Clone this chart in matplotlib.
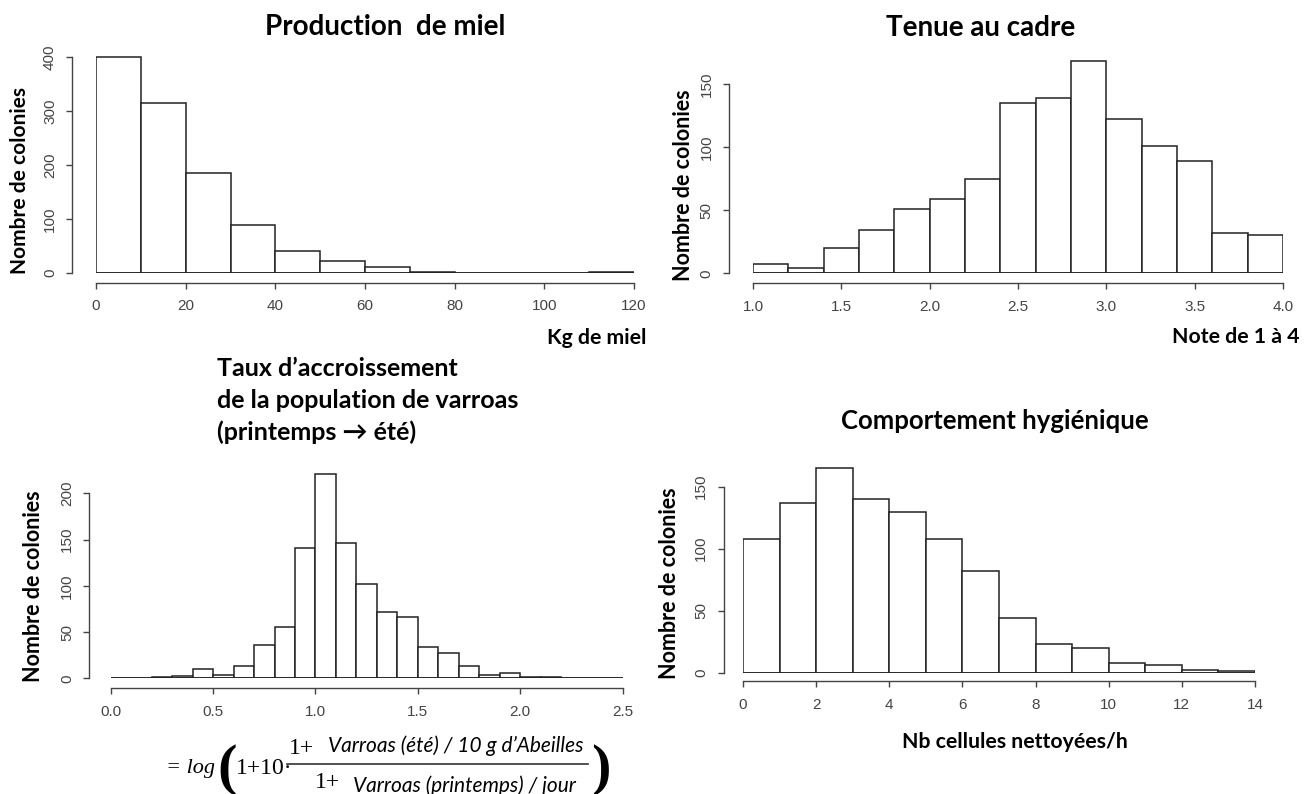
import matplotlib
matplotlib.use('Agg')
import matplotlib.pyplot as plt
from matplotlib.lines import Line2D

W, H = 1309, 794

# ---- data ----
miel_breaks = [0, 10, 20, 30, 40, 50, 60, 70, 80, 90, 100, 110, 120]
miel_counts = [401, 316, 185, 89, 40, 23, 12, 2, 0, 0, 0, 2]
miel_xticks = [0, 20, 40, 60, 80, 100, 120]
miel_yticks = [0, 100, 200, 300, 400]

cadre_breaks = [1.0, 1.2, 1.4, 1.6, 1.8, 2.0, 2.2, 2.4, 2.6, 2.8, 3.0, 3.2, 3.4, 3.6, 3.8, 4.0]
cadre_counts = [7, 4, 20, 34, 51, 59, 75, 135, 139, 168, 122, 101, 89, 32, 30]
cadre_xticks = [1.0, 1.5, 2.0, 2.5, 3.0, 3.5, 4.0]
cadre_yticks = [0, 50, 100, 150]

varroa_breaks = [0.0, 0.1, 0.2, 0.3, 0.4, 0.5, 0.6, 0.7, 0.8, 0.9, 1.0, 1.1, 1.2, 1.3,
                 1.4, 1.5, 1.6, 1.7, 1.8, 1.9, 2.0, 2.1, 2.2, 2.3, 2.4, 2.5]
varroa_counts = [0, 0, 1, 2, 10, 4, 13, 36, 55, 141, 221, 146, 102, 72, 66, 34, 27,
                 13, 4, 6, 1, 1, 0, 0, 0]
varroa_xticks = [0.0, 0.5, 1.0, 1.5, 2.0, 2.5]
varroa_yticks = [0, 50, 100, 150, 200]

hyg_breaks = [0, 1, 2, 3, 4, 5, 6, 7, 8, 9, 10, 11, 12, 13, 14]
hyg_counts = [108, 137, 165, 140, 130, 108, 82, 44, 23, 20, 8, 6, 2, 1]
hyg_xticks = [0, 2, 4, 6, 8, 10, 12, 14]
hyg_yticks = [0, 50, 100, 150]

TXT = 'Lato'
TICK_FONT = 'Liberation Sans'

fig = plt.figure(figsize=(W / 100, H / 100), dpi=100)


def px_axes(x0, x1, y_top, y_bot):
    return fig.add_axes([x0 / W, 1 - y_bot / H, (x1 - x0) / W, (y_bot - y_top) / H])


def r_hist(ax, breaks, counts, xticks, yticks, ymax, xfmt, left_out, bottom_out):
    widths = [b - a for a, b in zip(breaks[:-1], breaks[1:])]
    ax.bar(breaks[:-1], counts, width=widths, align='edge', color='white',
           edgecolor='#222222', linewidth=1.1)
    ax.hlines(0, breaks[0], breaks[-1], color='#222222', linewidth=1.1)
    ax.set_xlim(breaks[0], breaks[-1])
    ax.set_ylim(0, ymax)
    for s in ['top', 'right']:
        ax.spines[s].set_visible(False)
    ax.spines['left'].set_position(('outward', left_out))
    ax.spines['bottom'].set_position(('outward', bottom_out))
    ax.spines['left'].set_bounds(yticks[0], yticks[-1])
    ax.spines['bottom'].set_bounds(xticks[0], xticks[-1])
    for s in ['left', 'bottom']:
        ax.spines[s].set_color('#444444')
        ax.spines[s].set_linewidth(1.0)
    ax.set_xticks(xticks)
    ax.set_xticklabels([xfmt.format(t) for t in xticks])
    ax.set_yticks(yticks)
    ax.set_yticklabels([str(t) for t in yticks], rotation=90, va='center')
    ax.tick_params(length=4.5, width=1.0, color='#444444', labelcolor='#444444',
                   labelsize=11, pad=7.5)
    ax.tick_params(axis='y', pad=6.5)
    for lab in ax.get_xticklabels() + ax.get_yticklabels():
        lab.set_family(TICK_FONT)
    ax.patch.set_alpha(0)


def ftext(x, y, s, **kw):
    return fig.text(x / W, 1 - y / H, s, **kw)


# 1. Production de miel
ax1 = px_axes(96, 634, 273 - 410 * 0.539, 273)
r_hist(ax1, miel_breaks, miel_counts, miel_xticks, miel_yticks, 410, '{:d}', 17, 7)
ftext(385, 27, 'Production  de miel', ha='center', va='center', family=TXT,
      weight='bold', size=20)
ftext(646, 338, 'Kg de miel', ha='right', va='center', family=TXT, weight='bold', size=15.3)
ftext(20, 180, 'Nombre de colonies', rotation=90, ha='center', va='center',
      family=TXT, weight='bold', size=15)

# 2. Tenue au cadre
ax2 = px_axes(753, 1283, 273.3 - 175 * 1.262, 273.3)
r_hist(ax2, cadre_breaks, cadre_counts, cadre_xticks, cadre_yticks, 175, '{:.1f}', 17.5, 7)
ftext(981, 28, 'Tenue au cadre', ha='center', va='center', family=TXT,
      weight='bold', size=20)
ftext(1299, 337, 'Note de 1 à 4', ha='right', va='center', family=TXT, weight='bold', size=15.3)
ftext(683, 185, 'Nombre de colonies', rotation=90, ha='center', va='center',
      family=TXT, weight='bold', size=15.5)

# 3. Taux d'accroissement varroas
ax3 = px_axes(110.7, 622.6, 678.3 - 230 * 0.925, 678.3)
r_hist(ax3, varroa_breaks, varroa_counts, varroa_xticks, varroa_yticks, 230, '{:.1f}', 15.5, 7)
for i, line in enumerate(['Taux d\u2019accroissement', 'de la population de varroas',
                          '(printemps \u2192 été)']):
    ftext(217, 368 + 32 * i, line, ha='left', va='center', family=TXT,
          weight='bold', size=18)
ftext(34, 586, 'Nombre de colonies', rotation=90, ha='center', va='center',
      family=TXT, weight='bold', size=15.5)

# formula under panel 3
ftext(166, 768, '= log', ha='left', va='center', family='Liberation Serif',
      style='italic', size=16)
ftext(217, 770, '(', ha='left', va='center', family='Liberation Serif', weight='bold', size=42)
ftext(236, 768, '1+10\u00b7', ha='left', va='center', family='Liberation Serif', size=17)
fig.add_artist(Line2D([287 / W, 588 / W], [1 - 764 / H, 1 - 764 / H],
                      color='#333333', linewidth=1.2))
ftext(289, 748, '1+', ha='left', va='center', family='Liberation Serif', size=17)
ftext(328, 746, 'Varroas (été) / 10 g d\u2019Abeilles', ha='left', va='center',
      family=TXT, style='italic', size=15)
ftext(315, 782, '1+', ha='left', va='center', family='Liberation Serif', size=17)
ftext(353, 786, 'Varroas (printemps) / jour', ha='left', va='center',
      family=TXT, style='italic', size=15)
ftext(591, 770, ')', ha='left', va='center', family='Liberation Serif', weight='bold', size=42)

# 4. Comportement hygienique
ax4 = px_axes(743, 1255, 672.7 - 175 * 1.24, 672.7)
r_hist(ax4, hyg_breaks, hyg_counts, hyg_xticks, hyg_yticks, 175, '{:d}', 14, 6)
ftext(995, 421, 'Comportement hygiénique', ha='center', va='center', family=TXT,
      weight='bold', size=18.5)
ftext(1015, 742, 'Nb cellules nettoyées/h', ha='center', va='center', family=TXT,
      weight='bold', size=15.3)
ftext(669, 583, 'Nombre de colonies', rotation=90, ha='center', va='center',
      family=TXT, weight='bold', size=15.5)

fig.savefig('out.png', dpi=100, facecolor='white')
